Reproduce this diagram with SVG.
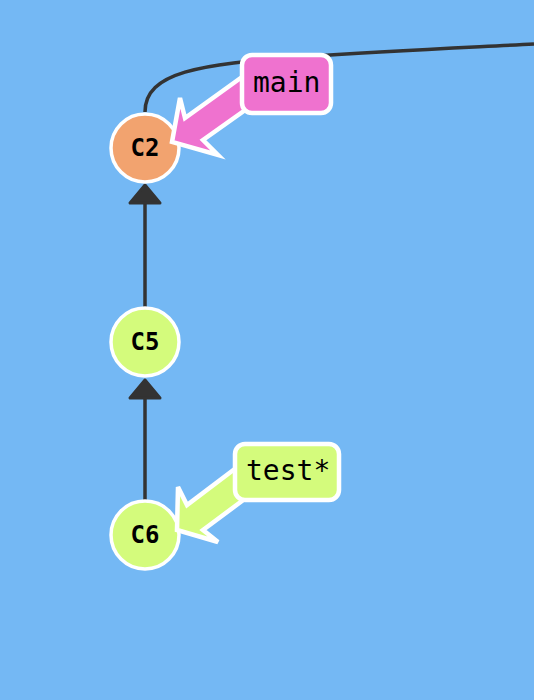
<svg xmlns="http://www.w3.org/2000/svg" width="534" height="700" viewBox="0 0 534 700">
<style>
.edge{fill:none;stroke:#333;stroke-width:3.5}
.head{fill:#333;stroke:#333;stroke-width:3;stroke-linejoin:round}
.node circle{stroke:#fff;stroke-width:3.5}
.node text{font-family:"DejaVu Sans Mono",monospace;font-weight:bold;font-size:24px;text-anchor:middle}
.lbl rect,.lbl polygon{stroke:#fff;stroke-width:4.5;stroke-linejoin:miter}
.lbl text{font-family:"DejaVu Sans Mono",monospace;font-size:28px}
</style>
<rect width="534" height="700" fill="#74b8f4"/>
<g id="connectors">
<path class="edge" d="M145,112 C145,72 200,64 300,57 S480,47 534,44"/>
<line class="edge" x1="145" y1="307" x2="145" y2="200"/>
<polygon class="head" points="145,185 130,203 160,203"/>
<line class="edge" x1="145" y1="500" x2="145" y2="395"/>
<polygon class="head" points="145,380 130,398 160,398"/>
</g>
<g id="C2" class="node"><circle cx="145" cy="148" r="34" fill="#f2a36f"/><text x="145" y="156">C2</text></g>
<g id="C5" class="node"><circle cx="145" cy="342" r="34" fill="#d4fb7c"/><text x="145" y="350">C5</text></g>
<g id="C6" class="node"><circle cx="145" cy="535" r="34" fill="#d4fb7c"/><text x="145" y="543">C6</text></g>
<g id="main" class="lbl">
<polygon fill="#ef72cf" points="242,77 185,118 180,98 172,142 218,155 203,140 248,108"/>
<rect x="242" y="55" width="89" height="58" rx="10" fill="#ef72cf"/>
<text x="253" y="92">main</text>
</g>
<g id="test" class="lbl">
<polygon fill="#d4fb7c" points="236,468 187,505 178,487 177,530 218,542 203,530 246,498"/>
<rect x="235" y="444" width="104" height="56" rx="10" fill="#d4fb7c"/>
<text x="246" y="480">test*</text>
</g>
</svg>
